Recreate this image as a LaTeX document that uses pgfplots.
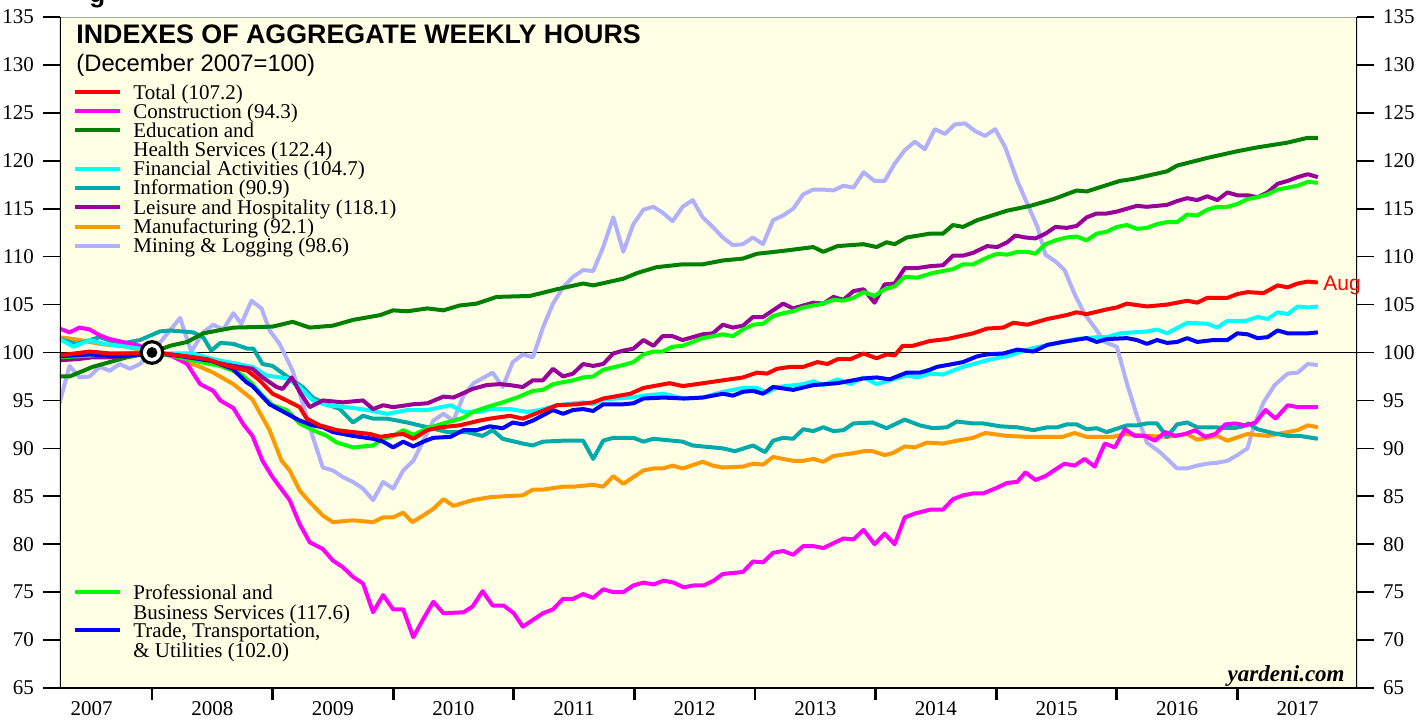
\documentclass[border=0pt]{standalone}
\usepackage{fontspec}
\setmainfont{Liberation Serif}
\setsansfont{Liberation Sans}
\usepackage{pgfplots}
\pgfplotsset{compat=1.18}
\definecolor{bgc}{RGB}{255,255,229}
\definecolor{cTotal}{RGB}{255,0,0}
\definecolor{cCons}{RGB}{255,0,255}
\definecolor{cEdu}{RGB}{0,128,0}
\definecolor{cFin}{RGB}{0,255,255}
\definecolor{cInfo}{RGB}{0,170,170}
\definecolor{cLeis}{RGB}{153,0,153}
\definecolor{cMan}{RGB}{255,153,0}
\definecolor{cMin}{RGB}{176,176,255}
\definecolor{cProf}{RGB}{0,255,0}
\definecolor{cTrade}{RGB}{0,0,255}
\newcommand{\tfont}{\fontsize{10.5}{12}\selectfont}
\begin{document}
\begin{tikzpicture}
\pgfplotsset{every axis/.append style={scale only axis, width=648.5pt, height=335.5pt,
  xmin=-9.15, xmax=119.9, ymin=65, ymax=135,
  tick align=outside, major tick length=8.5pt,
  tick style={black, line width=0.8pt},
  ticklabel style={font=\tfont},
  /pgf/number format/assume math mode=true}}
\begin{axis}[
  axis background/.style={fill=bgc},
  axis line style={draw=none},
  xtick={-6,6,...,114},
  xticklabels={2007,2008,2009,2010,2011,2012,2013,2014,2015,2016,2017},
  major x tick style={draw=none},
  minor xtick={0,12,...,108},
  minor tick length=6pt,
  minor x tick style={line width=1.4pt, black},
  xtick pos=bottom,
  xticklabel style={yshift=5.5pt},
  ytick={65,70,...,135}, ytick pos=left,
  yticklabel style={xshift=-1pt},
  line join=round,
]
\addplot[black, line width=0.5pt, forget plot] coordinates {(-9.15,100) (119.9,100)};
% Mining & Logging
\addplot[cMin, line width=2pt] coordinates {
(-9.2,94.7) (-8.2,98.6) (-7.2,97.4) (-6.2,97.5) (-5.2,98.5) (-4.2,98.1) (-3.2,98.8) (-2.2,98.3) (-1.2,98.8) (0,100)
(2.8,103.6) (3.9,100.1) (5.1,102.1) (6.1,102.9) (7.1,102.4) (8.1,104.1) (8.9,103.0) (9.9,105.4) (10.9,104.6) (11.7,102.3)
(12.7,100.9) (14.0,98.1) (15.0,94.7) (16.0,91.2) (17.0,88.0) (18.0,87.7) (19.0,87.0) (20.0,86.5) (21.0,85.8) (22.0,84.6)
(23.0,86.5) (24.0,85.8) (25.0,87.7) (26.0,88.7) (27.0,90.8) (28.0,92.9) (29.0,93.6) (30.0,92.9) (31.0,95.5) (32.0,96.8)
(33.9,97.9) (34.9,96.4) (35.9,99.0) (36.9,99.8) (37.9,99.5) (38.9,102.6) (39.9,105.1) (40.9,106.8) (41.9,107.9) (42.9,108.6)
(43.9,108.5) (44.9,111.0) (45.9,114.1) (46.9,110.5) (47.9,113.4) (48.9,114.9) (49.9,115.2) (50.8,114.6) (51.8,113.7) (52.8,115.2)
(53.8,115.9) (54.8,114.1) (55.8,113.1) (56.8,112.0) (57.8,111.2) (58.8,111.3) (59.8,112.0) (60.8,111.3) (61.8,113.8) (62.8,114.3)
(63.8,115.0) (64.8,116.5) (65.8,117.0) (66.8,117.0) (67.8,116.9) (68.8,117.4) (69.8,117.2) (70.8,118.8) (71.9,117.9) (72.9,117.9)
(73.9,119.7) (74.9,121.1) (75.9,122.0) (76.9,121.2) (77.9,123.3) (78.9,122.8) (79.9,123.8) (80.9,123.9) (81.9,123.1) (82.9,122.6)
(83.9,123.3) (84.9,121.4) (86.1,117.9) (87.1,115.5) (88.1,113.1) (88.9,110.2) (89.9,109.5) (90.8,108.6) (91.8,106.1) (92.8,104.0)
(93.8,102.6) (94.8,101.1) (96.0,100.6) (97.0,96.8) (98.0,93.4) (99.0,90.6) (100.3,89.6) (102.0,87.9) (103.0,87.9) (104.0,88.2)
(105.0,88.4) (106.0,88.5) (107.0,88.7) (108.0,89.3) (109.0,90.0) (109.6,92.2) (110.6,94.8) (111.7,96.6) (113.0,97.8) (114.0,97.9)
(115.0,98.8) (116.0,98.7)};
% Manufacturing
\addplot[cMan, line width=2pt] coordinates {
(-9.2,101.6) (-7.2,101.3) (-5.2,100.9) (-2.5,100.6) (0,100) (1.8,99.7) (3.5,99.0) (4.8,98.5) (6.1,97.9) (8.1,96.7)
(10.0,95.1) (11.7,91.9) (12.9,88.7) (13.7,87.7) (14.7,85.6) (15.7,84.4) (17.0,83.0) (18.0,82.3) (20.0,82.5) (22.0,82.3)
(23.0,82.8) (24.0,82.8) (25.0,83.3) (25.9,82.3) (27.0,83.0) (28.0,83.7) (29.0,84.7) (30.0,84.0) (31.9,84.6) (33.6,84.9)
(34.9,85.0) (36.9,85.1) (37.9,85.7) (38.9,85.7) (40.9,86.0) (41.9,86.0) (43.9,86.2) (44.9,86.0) (45.9,87.1) (46.9,86.3)
(48.9,87.7) (49.9,87.9) (50.8,87.9) (51.8,88.2) (52.8,87.9) (54.8,88.6) (55.8,88.2) (56.8,88.0) (58.8,88.1) (59.8,88.4)
(60.8,88.3) (61.8,89.1) (63.8,88.7) (64.8,88.7) (65.8,88.9) (66.8,88.6) (67.8,89.2) (69.8,89.5) (70.8,89.7) (71.7,89.7)
(72.9,89.3) (73.7,89.5) (74.9,90.2) (75.9,90.1) (77.1,90.6) (78.7,90.5) (80.1,90.8) (81.7,91.1) (82.9,91.6) (85.1,91.3)
(87.1,91.2) (89.1,91.2) (90.6,91.2) (91.8,91.6) (93.0,91.2) (95.6,91.2) (96.8,91.5) (99.0,91.3) (101.0,91.2) (103.0,91.5)
(104.0,90.9) (106.0,91.3) (107.0,90.8) (109.0,91.5) (111.0,91.3) (113.0,91.7) (114.0,91.9) (115.0,92.4) (116.0,92.2)};
% Information
\addplot[cInfo, line width=2pt] coordinates {
(-9.2,101.4) (-7.5,100.9) (-5.2,101.6) (-3.2,100.9) (-1.2,101.3) (0.8,102.2) (1.8,102.3) (4.1,102.1) (5.1,101.6) (5.9,100.2)
(6.8,101.0) (8.1,100.9) (9.5,100.4) (10.1,100.4) (11.0,98.8) (12.0,98.6) (13.7,97.3) (15.0,96.4) (16.0,95.3) (17.4,94.6)
(18.7,94.1) (20.0,92.7) (21.0,93.4) (22.0,93.1) (23.4,93.1) (25.4,92.7) (27.4,92.2) (29.4,91.7) (31.3,91.7) (32.9,91.3)
(33.9,91.9) (34.9,91.0) (36.9,90.5) (37.9,90.3) (38.9,90.7) (40.9,90.8) (42.9,90.8) (43.9,88.9) (44.9,90.8) (45.9,91.1)
(47.9,91.1) (48.9,90.7) (49.9,91.0) (52.8,90.7) (53.8,90.3) (56.8,90.0) (58.0,89.7) (59.8,90.3) (61.0,89.6) (61.8,90.8)
(62.8,91.1) (63.8,91.0) (64.8,92.0) (65.8,91.8) (66.8,92.2) (67.8,91.8) (68.8,91.9) (69.8,92.6) (71.7,92.7) (73.1,92.1)
(73.7,92.4) (74.9,93.0) (76.4,92.4) (77.7,92.1) (79.1,92.2) (80.1,92.8) (81.7,92.6) (82.7,92.6) (84.4,92.3) (86.1,92.2)
(87.7,91.9) (89.1,92.2) (90.1,92.2) (91.0,92.5) (92.0,92.5) (93.0,92.0) (94.0,92.1) (95.0,91.7) (97.0,92.4) (98.0,92.4)
(99.0,92.6) (100.0,92.6) (101.0,91.2) (102.0,92.5) (103.0,92.7) (104.0,92.2) (105.6,92.2) (107.6,92.1) (108.6,92.3) (109.1,92.6)
(110.0,92.0) (111.5,91.6) (113.0,91.3) (114.2,91.3) (116.0,91.0)};
% Construction
\addplot[cCons, line width=2pt] coordinates {
(-9.2,102.5) (-8.2,102.1) (-7.2,102.6) (-6.2,102.4) (-5.2,101.8) (-4.2,101.4) (-2.9,101.1) (-1.2,100.7) (0,100) (1.8,99.7)
(2.8,99.2) (3.5,98.8) (4.8,96.7) (6.1,96.0) (6.8,95.0) (8.1,94.2) (9.1,92.5) (10.0,91.3) (11.0,88.7) (12.0,87.0)
(13.7,84.6) (14.7,82.1) (15.7,80.2) (17.0,79.5) (18.0,78.3) (19.0,77.6) (20.0,76.6) (21.0,75.9) (22.0,72.9) (23.0,74.7)
(24.0,73.2) (25.0,73.2) (26.0,70.3) (27.0,72.2) (28.0,74.0) (29.0,72.8) (31.0,72.9) (31.9,73.5) (32.9,75.1) (33.9,73.6)
(35.0,73.6) (36.0,72.8) (36.9,71.4) (37.9,72.1) (38.9,72.8) (39.9,73.2) (40.9,74.3) (41.9,74.3) (42.9,74.8) (43.9,74.4)
(44.9,75.3) (45.9,75.0) (46.9,75.0) (47.9,75.7) (48.9,76.0) (49.9,75.8) (50.9,76.2) (51.9,76.0) (52.9,75.5) (53.9,75.7)
(54.9,75.7) (55.9,76.2) (56.8,76.9) (57.8,77.0) (58.8,77.1) (59.8,78.2) (60.8,78.1) (61.8,79.1) (62.8,79.3) (63.8,78.9)
(64.8,79.8) (65.8,79.8) (66.8,79.6) (67.8,80.1) (68.8,80.6) (69.8,80.5) (70.8,81.5) (71.9,80.0) (72.9,81.1) (73.9,80.0)
(74.9,82.8) (75.9,83.2) (77.4,83.6) (78.7,83.6) (79.7,84.7) (80.7,85.1) (81.7,85.3) (82.7,85.3) (84.1,85.9) (85.1,86.4)
(86.1,86.5) (86.9,87.5) (87.9,86.7) (88.9,87.1) (89.9,87.8) (90.8,88.4) (91.8,88.2) (92.8,88.9) (93.8,88.1) (94.8,90.5)
(95.8,90.1) (96.8,92.0) (97.8,91.3) (98.8,91.3) (99.8,90.8) (100.8,91.7) (101.8,91.3) (102.8,91.5) (103.8,91.9) (104.8,91.2)
(105.8,91.5) (106.8,92.5) (107.8,92.6) (108.8,92.4) (109.8,92.7) (110.8,94.0) (111.8,93.1) (113.0,94.5) (114.0,94.3) (115.0,94.3)
(116.0,94.3)};
% Financial Activities
\addplot[cFin, line width=2pt] coordinates {
(-9.2,101.4) (-7.8,100.6) (-6.2,101.3) (-4.8,100.9) (-3.2,100.7) (-1.2,100.4) (0,100) (1.8,99.9) (4.1,99.9) (6.1,99.3)
(8.1,98.9) (10.0,98.5) (11.4,97.6) (13.4,97.3) (14.7,96.4) (16.0,95.0) (17.4,94.5) (19.4,94.3) (21.4,94.0) (23.4,93.6)
(25.4,94.0) (27.4,94.0) (29.7,94.5) (31.0,93.8) (32.6,93.8) (33.6,94.1) (35.6,94.1) (37.3,93.8) (38.6,94.0) (40.3,94.5)
(42.9,94.8) (43.9,94.6) (44.9,95.1) (47.6,95.3) (48.9,95.5) (50.9,95.7) (52.9,95.2) (54.8,95.3) (56.8,95.9) (58.8,96.3)
(60.2,96.3) (61.2,95.8) (62.2,96.4) (64.8,96.7) (65.8,97.0) (66.8,96.6) (68.2,97.2) (69.5,96.7) (70.8,97.4) (72.1,96.7)
(73.4,97.1) (75.1,97.6) (76.1,97.4) (77.4,97.8) (78.7,97.7) (80.7,98.5) (83.1,99.2) (85.4,99.7) (87.4,100.4) (89.7,100.9)
(92.0,101.4) (94.0,101.6) (95.0,101.6) (96.3,102.0) (99.0,102.2) (100.0,102.4) (101.0,102.0) (103.0,103.1) (105.0,103.0) (106.0,102.6)
(107.0,103.3) (108.8,103.3) (110.0,103.7) (111.0,103.5) (112.0,104.2) (113.0,104.0) (114.0,104.8) (115.0,104.7) (116.0,104.8)};
% Leisure and Hospitality
\addplot[cLeis, line width=2pt] coordinates {
(-9.2,99.2) (-7.5,99.3) (-5.9,99.5) (-4.2,99.5) (-2.5,99.7) (0,100) (1.8,99.8) (4.1,99.5) (6.1,99.0) (8.1,98.6)
(10.0,98.3) (11.0,97.4) (12.4,96.4) (13.0,96.2) (13.9,97.4) (14.7,95.9) (15.7,94.3) (17.0,95.0) (19.0,94.8) (21.0,95.0)
(22.0,94.1) (23.0,94.5) (24.0,94.3) (26.0,94.6) (27.4,94.7) (29.0,95.4) (30.0,95.3) (31.9,96.2) (33.3,96.6) (34.6,96.7)
(35.6,96.6) (36.9,96.4) (37.9,97.1) (38.9,97.1) (39.9,98.3) (40.9,97.5) (41.9,97.8) (42.9,98.8) (43.9,98.6) (44.9,98.8)
(45.9,99.9) (46.9,100.2) (47.9,100.4) (48.9,101.3) (49.9,100.7) (50.8,101.7) (51.8,101.7) (52.8,101.3) (54.8,101.9) (55.8,102.0)
(56.8,102.9) (57.8,102.6) (58.8,102.8) (59.8,103.7) (60.8,103.7) (62.8,105.1) (63.8,104.6) (65.8,105.2) (66.8,105.1) (67.8,105.8)
(68.8,105.5) (69.8,106.4) (70.8,106.6) (71.9,105.2) (72.9,107.1) (73.9,107.2) (74.9,108.8) (76.1,108.8) (77.4,109.0) (78.7,109.1)
(79.7,110.1) (80.7,110.1) (81.7,110.4) (83.1,111.1) (84.1,111.0) (85.1,111.5) (85.9,112.2) (86.9,112.0) (87.9,111.9) (88.9,112.4)
(89.9,113.1) (91.0,113.0) (92.0,113.2) (93.0,114.1) (94.0,114.5) (95.0,114.5) (96.0,114.7) (97.0,115.0) (98.0,115.3) (99.0,115.2)
(101.0,115.4) (102.0,115.8) (103.0,116.1) (104.0,115.9) (105.0,116.3) (106.0,115.9) (107.0,116.7) (108.0,116.4) (109.0,116.4) (110.0,116.2)
(111.0,116.7) (112.0,117.6) (113.0,117.9) (114.0,118.3) (115.0,118.6) (116.0,118.3)};
% Education and Health Services
\addplot[cEdu, line width=2pt] coordinates {
(-9.2,97.5) (-8.2,97.5) (-5.9,98.5) (-2.5,99.5) (0,100) (1.8,100.7) (3.5,101.1) (5.1,102.0) (8.1,102.6) (12.0,102.7)
(14.0,103.2) (15.7,102.6) (18.0,102.8) (20.0,103.4) (22.7,103.9) (24.0,104.4) (25.4,104.3) (27.4,104.6) (29.0,104.4) (30.6,104.9)
(32.3,105.1) (34.3,105.8) (37.6,105.9) (40.3,106.6) (42.9,107.2) (43.9,107.0) (46.9,107.7) (48.3,108.3) (50.2,108.9) (52.8,109.2)
(54.8,109.2) (56.8,109.6) (58.8,109.8) (60.2,110.3) (62.8,110.6) (65.8,111.0) (66.8,110.5) (68.2,111.1) (70.8,111.3) (72.1,111.0)
(73.1,111.5) (73.9,111.3) (75.1,112.0) (77.4,112.4) (78.7,112.4) (79.7,113.3) (80.7,113.1) (82.1,113.8) (85.1,114.8) (87.4,115.3)
(89.7,116.0) (92.0,116.9) (93.0,116.8) (96.3,117.9) (97.6,118.1) (101.0,118.9) (102.0,119.5) (105.0,120.3) (108.0,121.0) (110.0,121.4)
(113.0,121.9) (115.0,122.4) (116.0,122.4)};
% Professional and Business Services
\addplot[cProf, line width=2pt] coordinates {
(-9.2,99.5) (-5.9,99.7) (-2.5,99.9) (0,100) (1.8,99.7) (4.8,99.0) (6.8,98.6) (8.8,97.8) (10.0,96.7) (11.0,95.5)
(12.0,94.5) (13.4,94.0) (14.7,92.6) (16.0,91.9) (17.4,91.3) (18.4,90.6) (20.0,90.1) (22.0,90.3) (23.0,91.0) (24.0,91.3)
(25.0,91.9) (26.0,91.4) (27.4,92.1) (29.0,92.6) (31.0,93.2) (31.9,93.8) (33.6,94.4) (34.9,94.8) (36.3,95.3) (37.9,96.0)
(38.9,96.1) (39.9,96.7) (41.9,97.1) (42.9,97.4) (43.9,97.5) (44.9,98.2) (46.9,98.7) (47.9,99.0) (48.9,99.8) (49.9,100.1)
(50.8,100.1) (51.8,100.6) (52.8,100.7) (53.8,101.1) (54.8,101.5) (56.8,101.9) (57.8,101.7) (58.8,102.4) (59.8,102.9) (60.8,103.0)
(61.8,103.8) (62.8,104.1) (63.8,104.3) (64.8,104.7) (65.8,104.9) (66.8,105.1) (67.8,105.5) (68.8,105.4) (69.8,105.7) (70.8,106.3)
(71.9,105.9) (72.9,106.6) (73.9,106.9) (74.9,107.9) (76.1,107.8) (77.7,108.3) (78.7,108.5) (79.7,108.7) (80.7,109.2) (81.7,109.2)
(83.1,109.9) (84.1,110.3) (85.1,110.2) (86.1,110.5) (87.1,110.5) (87.9,110.3) (88.9,111.3) (89.9,111.7) (91.0,112.0) (92.0,112.1)
(93.0,111.7) (94.0,112.4) (95.0,112.6) (96.0,113.1) (97.0,113.3) (98.0,112.9) (99.0,113.0) (100.0,113.4) (101.0,113.6) (102.0,113.6)
(103.0,114.4) (104.0,114.3) (105.0,114.9) (106.0,115.2) (107.0,115.2) (108.0,115.5) (109.0,116.0) (110.0,116.2) (111.0,116.5) (112.0,117.0)
(113.0,117.2) (114.0,117.4) (115.0,117.8) (116.0,117.7)};
% Trade, Transportation & Utilities
\addplot[cTrade, line width=2pt] coordinates {
(-9.2,99.6) (-6.2,99.8) (-3.2,99.6) (-1.2,99.8) (0,100) (3.0,99.6) (6.0,99.1) (8.0,98.3) (9.4,96.9) (10.0,96.5)
(11.7,94.6) (14.7,92.9) (16.0,92.4) (17.0,92.2) (18.0,91.7) (20.0,91.3) (22.0,91.0) (23.0,90.7) (24.0,90.1) (25.0,90.7)
(26.0,90.2) (27.0,90.7) (28.0,91.1) (29.7,91.2) (31.0,91.9) (32.3,91.9) (33.6,92.3) (34.9,92.1) (35.9,92.7) (36.9,92.5)
(37.9,92.9) (39.9,94.0) (40.9,93.6) (41.9,94.0) (42.9,94.1) (43.9,93.9) (44.9,94.6) (46.9,94.6) (47.9,94.7) (48.9,95.2)
(50.9,95.3) (52.9,95.2) (54.8,95.3) (56.8,95.7) (57.8,95.5) (58.8,95.9) (59.8,96.0) (60.8,95.7) (61.8,96.4) (63.8,96.1)
(65.8,96.6) (68.2,96.8) (70.8,97.3) (72.1,97.4) (73.4,97.2) (75.1,97.9) (76.4,97.9) (77.4,98.2) (78.1,98.5) (79.7,98.8)
(80.7,99.0) (82.1,99.6) (83.1,99.8) (84.7,99.9) (86.1,100.3) (87.7,100.1) (89.1,100.8) (90.6,101.1) (93.0,101.5) (94.0,101.1)
(95.0,101.4) (97.0,101.5) (98.0,101.3) (99.0,100.9) (100.0,101.3) (101.0,101.0) (102.0,101.1) (103.0,101.5) (104.0,101.1) (105.6,101.3)
(107.0,101.3) (108.0,102.0) (109.0,101.9) (110.0,101.5) (111.0,101.6) (112.0,102.3) (113.0,102.0) (115.0,102.0) (116.0,102.1)};
% Total
\addplot[cTotal, line width=2pt] coordinates {
(-9.2,99.7) (-6.2,100.1) (-4.2,99.9) (-1.2,99.9) (0,100) (1.8,99.8) (4.1,99.5) (5.5,99.3) (7.5,98.6) (9.5,98.1)
(10.7,97.1) (12.0,95.7) (13.4,95.0) (14.7,94.3) (15.4,93.1) (16.7,92.4) (18.4,91.9) (20.0,91.7) (21.7,91.5) (22.7,91.2)
(24.0,91.4) (25.0,91.5) (26.0,91.0) (27.4,91.9) (28.7,92.2) (30.6,92.4) (32.6,92.9) (33.6,93.1) (35.6,93.4) (36.9,93.1)
(38.6,93.8) (40.3,94.5) (42.3,94.6) (43.9,94.8) (44.9,95.2) (47.6,95.7) (48.9,96.3) (51.5,96.8) (52.8,96.5) (54.2,96.7)
(56.8,97.1) (58.8,97.4) (60.2,97.9) (61.2,97.8) (62.2,98.3) (63.5,98.5) (64.8,98.5) (66.2,99.0) (67.2,98.8) (68.2,99.3)
(69.5,99.3) (70.8,99.9) (72.1,99.4) (73.1,99.8) (73.9,99.7) (74.7,100.7) (75.7,100.7) (77.4,101.2) (79.1,101.4) (81.7,102.0)
(83.1,102.5) (84.7,102.6) (85.7,103.1) (87.1,102.9) (89.1,103.5) (91.0,103.9) (92.0,104.2) (93.0,104.0) (95.0,104.5) (96.0,104.7)
(97.0,105.1) (99.0,104.8) (101.0,105.0) (103.0,105.4) (104.0,105.2) (105.0,105.7) (107.0,105.7) (108.0,106.1) (109.0,106.3) (110.6,106.2)
(112.0,107.0) (113.0,106.8) (114.0,107.2) (115.0,107.4) (116.0,107.3)};
% base month marker
\addplot[only marks, mark=*, mark size=5.4pt, mark options={fill=white, draw=black, line width=1.6pt}] coordinates {(0,100)};
\addplot[only marks, mark=*, mark size=2.5pt, mark options={fill=black, draw=black}] coordinates {(0,100)};
% frame
\draw[gray!70, line width=0.7pt] (rel axis cs:0,1) -- (rel axis cs:1,1);
\draw[black, line width=1.5pt] (rel axis cs:0,1) -- (rel axis cs:0,0) -- (rel axis cs:1,0) -- (rel axis cs:1,1);
\end{axis}
\begin{axis}[
  axis line style={draw=none},
  xtick=\empty,
  ytick={65,70,...,135}, ytick pos=right, yticklabel pos=right,
  yticklabel style={xshift=1pt},
]
\end{axis}
% decorations in pixel units
\begin{scope}[x=0.5pt, y=-0.5pt, shift={(-30pt,344pt)}]
\node[anchor=base west, inner sep=0pt, font=\fontsize{13.4}{15}\selectfont\sffamily\bfseries] at (76,44) {INDEXES OF AGGREGATE WEEKLY HOURS};
\node[anchor=base west, inner sep=0pt, font=\fontsize{11.9}{14}\selectfont\sffamily] at (76,72) {(December 2007=100)};
\foreach \yy/\cc in {92/cTotal,111/cCons,130/cEdu,169/cFin,188/cInfo,207/cLeis,227/cMan,246/cMin,592/cProf,630/cTrade}{
  \draw[\cc, line width=2pt] (75,\yy) -- (120,\yy);
}
\begin{scope}[every node/.style={anchor=base west, inner sep=0pt, font=\tfont}]
\node at (133,100) {Total (107.2)};
\node at (133,118.5) {Construction (94.3)};
\node at (133,137.5) {Education and};
\node at (133,157) {Health Services (122.4)};
\node at (133,176) {Financial Activities (104.7)};
\node at (133,195) {Information (90.9)};
\node at (133,214.3) {Leisure and Hospitality (118.1)};
\node at (133,233.3) {Manufacturing (92.1)};
\node at (133,252.5) {Mining \& Logging (98.6)};
\node at (133,599.5) {Professional and};
\node at (133,619.3) {Business Services (117.6)};
\node at (133,637.5) {Trade, Transportation,};
\node at (133,657.5) {\& Utilities (102.0)};
\end{scope}
\node[anchor=base west, inner sep=0pt, text=cTotal, font=\fontsize{10.5}{12}\selectfont\sffamily] at (1323,290) {Aug};
\node[anchor=base east, inner sep=0pt, font=\fontsize{11.5}{14}\selectfont\bfseries\itshape] at (1345,681) {yardeni.com};
\node[anchor=base west, inner sep=0pt, font=\fontsize{13}{15}\selectfont\sffamily\bfseries] at (89,3) {g};
\pgfresetboundingbox
\path[use as bounding box] (0,0) rectangle (1425,719);
\end{scope}
\end{tikzpicture}
\end{document}
